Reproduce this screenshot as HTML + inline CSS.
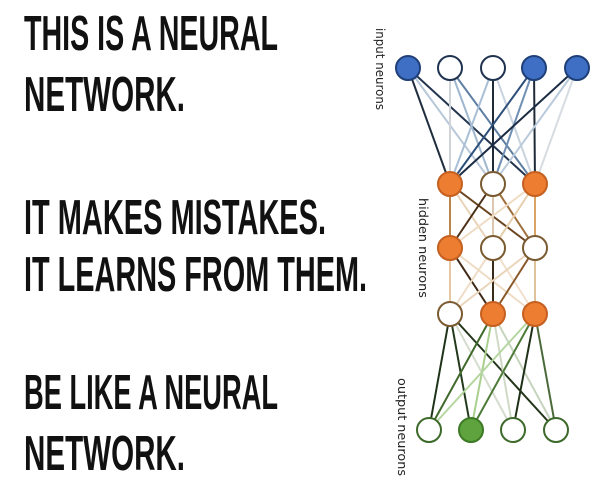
<!DOCTYPE html>
<html><head><meta charset="utf-8"><style>
html,body{margin:0;padding:0;background:#fff;}
svg{display:block;}
</style></head><body>
<svg width="600" height="486" viewBox="0 0 600 486" xmlns="http://www.w3.org/2000/svg">
<rect width="600" height="486" fill="#fff"/>
<g font-family="Liberation Sans, sans-serif" font-weight="bold" font-size="49" fill="#111">
<text x="24" y="50" textLength="254" lengthAdjust="spacingAndGlyphs">THIS IS A NEURAL</text>
<text x="24" y="111" textLength="161" lengthAdjust="spacingAndGlyphs">NETWORK.</text>
<text x="24" y="234" textLength="302" lengthAdjust="spacingAndGlyphs">IT MAKES MISTAKES.</text>
<text x="24" y="291" textLength="343" lengthAdjust="spacingAndGlyphs">IT LEARNS FROM THEM.</text>
<text x="24" y="409" textLength="254" lengthAdjust="spacingAndGlyphs">BE LIKE A NEURAL</text>
<text x="24" y="470" textLength="161" lengthAdjust="spacingAndGlyphs">NETWORK.</text>
</g>
<g font-family="DejaVu Sans, sans-serif" font-size="12" fill="#222">
<text transform="translate(376,28) rotate(90)" textLength="82" lengthAdjust="spacingAndGlyphs">input neurons</text>
<text transform="translate(419,198) rotate(90)" textLength="100" lengthAdjust="spacingAndGlyphs">hidden neurons</text>
<text transform="translate(398,378) rotate(90)" textLength="98" lengthAdjust="spacingAndGlyphs">output neurons</text>
</g>
<g stroke-width="2" fill="none">
<line x1="408" y1="68" x2="450" y2="184" stroke="#1f2d3d"/>
<line x1="408" y1="68" x2="493" y2="184" stroke="#b8c8d8"/>
<line x1="408" y1="68" x2="535" y2="184" stroke="#23354f"/>
<line x1="450" y1="68" x2="450" y2="184" stroke="#d0d4d8"/>
<line x1="450" y1="68" x2="493" y2="184" stroke="#9fb6cf"/>
<line x1="450" y1="68" x2="535" y2="184" stroke="#5f7fa3"/>
<line x1="493" y1="68" x2="450" y2="184" stroke="#a9bfd6"/>
<line x1="493" y1="68" x2="493" y2="184" stroke="#1e2a38"/>
<line x1="493" y1="68" x2="535" y2="184" stroke="#c9d3de"/>
<line x1="534" y1="68" x2="450" y2="184" stroke="#2c4f7a"/>
<line x1="534" y1="68" x2="493" y2="184" stroke="#6f8fb3"/>
<line x1="534" y1="68" x2="535" y2="184" stroke="#1e2a38"/>
<line x1="577" y1="68" x2="450" y2="184" stroke="#1c2c44"/>
<line x1="577" y1="68" x2="493" y2="184" stroke="#b9cadb"/>
<line x1="577" y1="68" x2="535" y2="184" stroke="#d6dce2"/>
<line x1="450" y1="184" x2="450" y2="248" stroke="#b7864a"/>
<line x1="450" y1="184" x2="493" y2="248" stroke="#e9d2b8"/>
<line x1="450" y1="184" x2="535" y2="248" stroke="#6b4520"/>
<line x1="493" y1="184" x2="450" y2="248" stroke="#4a3018"/>
<line x1="493" y1="184" x2="493" y2="248" stroke="#dcc8b0"/>
<line x1="493" y1="184" x2="535" y2="248" stroke="#a0703c"/>
<line x1="535" y1="184" x2="450" y2="248" stroke="#f0dcc4"/>
<line x1="535" y1="184" x2="493" y2="248" stroke="#e6cfae"/>
<line x1="535" y1="184" x2="535" y2="248" stroke="#d9a466"/>
<line x1="450" y1="248" x2="450" y2="314" stroke="#e6c9a4"/>
<line x1="450" y1="248" x2="493" y2="314" stroke="#3e2a16"/>
<line x1="450" y1="248" x2="535" y2="314" stroke="#efdcc6"/>
<line x1="493" y1="248" x2="450" y2="314" stroke="#efdcc6"/>
<line x1="493" y1="248" x2="493" y2="314" stroke="#3a2a1a"/>
<line x1="493" y1="248" x2="535" y2="314" stroke="#f0e0cc"/>
<line x1="535" y1="248" x2="450" y2="314" stroke="#ead6bd"/>
<line x1="535" y1="248" x2="493" y2="314" stroke="#8b5a2b"/>
<line x1="535" y1="248" x2="535" y2="314" stroke="#e2c29b"/>
<line x1="450" y1="314" x2="429" y2="430" stroke="#1f3318"/>
<line x1="450" y1="314" x2="471" y2="430" stroke="#23391c"/>
<line x1="450" y1="314" x2="513" y2="430" stroke="#d4dccd"/>
<line x1="450" y1="314" x2="556" y2="430" stroke="#223519"/>
<line x1="493" y1="314" x2="429" y2="430" stroke="#3f6a2c"/>
<line x1="493" y1="314" x2="471" y2="430" stroke="#a9cf8f"/>
<line x1="493" y1="314" x2="513" y2="430" stroke="#cfdac6"/>
<line x1="493" y1="314" x2="556" y2="430" stroke="#c6d4bd"/>
<line x1="535" y1="314" x2="429" y2="430" stroke="#b6d6a0"/>
<line x1="535" y1="314" x2="471" y2="430" stroke="#4e7a38"/>
<line x1="535" y1="314" x2="513" y2="430" stroke="#1e3016"/>
<line x1="535" y1="314" x2="556" y2="430" stroke="#4b6a3a"/>
</g>
<g stroke-width="2">
<circle cx="408" cy="68" r="12" fill="#3f6fc4" stroke="#1f3f78"/>
<circle cx="450" cy="68" r="12" fill="#fff" stroke="#1f3350"/>
<circle cx="493" cy="68" r="12" fill="#fff" stroke="#1f3350"/>
<circle cx="534" cy="68" r="12" fill="#3f6fc4" stroke="#1f3f78"/>
<circle cx="577" cy="68" r="12" fill="#3f6fc4" stroke="#1f3f78"/>
<circle cx="450" cy="184" r="12" fill="#ed7d31" stroke="#c56020"/>
<circle cx="493" cy="184" r="12" fill="#fff" stroke="#7a5a30"/>
<circle cx="535" cy="184" r="12" fill="#ed7d31" stroke="#c56020"/>
<circle cx="450" cy="248" r="12" fill="#ed7d31" stroke="#c56020"/>
<circle cx="493" cy="248" r="12" fill="#fff" stroke="#7a5a30"/>
<circle cx="535" cy="248" r="12" fill="#fff" stroke="#7a5a30"/>
<circle cx="450" cy="314" r="12" fill="#fff" stroke="#7a5a30"/>
<circle cx="493" cy="314" r="12" fill="#ed7d31" stroke="#c56020"/>
<circle cx="535" cy="314" r="12" fill="#ed7d31" stroke="#c56020"/>
<circle cx="429" cy="430" r="12" fill="#fff" stroke="#3d6a2a"/>
<circle cx="471" cy="430" r="12" fill="#5fa33e" stroke="#3d7a25"/>
<circle cx="513" cy="430" r="12" fill="#fff" stroke="#3d6a2a"/>
<circle cx="556" cy="430" r="12" fill="#fff" stroke="#3d6a2a"/>
</g>
</svg>
</body></html>
